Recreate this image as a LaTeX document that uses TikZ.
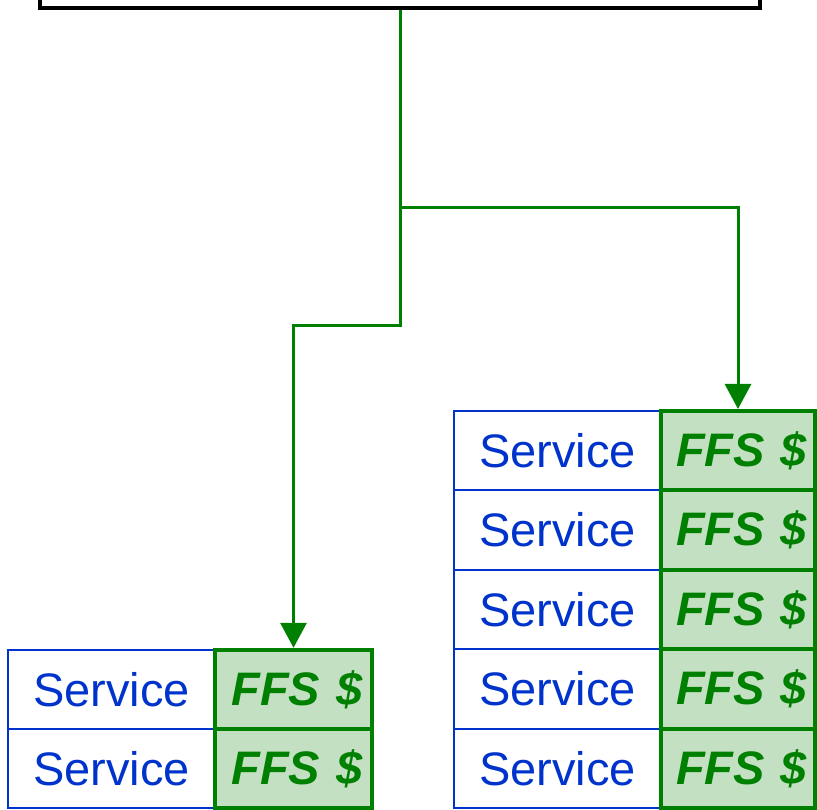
\documentclass[tikz,border=0pt]{standalone}
\usepackage{fontspec}
\setmainfont{Liberation Sans}
\usetikzlibrary{arrows.meta}
\definecolor{svcblue}{RGB}{0,51,204}
\definecolor{ffsgreen}{RGB}{0,128,0}
\definecolor{ffsfill}{RGB}{195,224,195}
\newcommand{\ffstext}{\hspace*{7pt}FFS\hspace{3pt} \$}
\tikzset{
  svc/.style={draw=svcblue, line width=2pt, fill=white, minimum width=207pt, minimum height=79.4pt, inner sep=0pt,
    text=svcblue, font=\fontsize{47}{47}\selectfont},
  ffs/.style={draw=ffsgreen, line width=4pt, fill=ffsfill, minimum width=154pt, minimum height=79.4pt, inner sep=0pt,
    text=ffsgreen, font=\fontsize{47}{47}\selectfont\bfseries\itshape},
  ffsl/.style={ffs, minimum width=157pt},
  conn/.style={draw=ffsgreen, line width=3pt, -{Triangle[length=25pt,width=26pt]}},
  topbox/.style={draw=black, line width=4pt, fill=white, minimum width=720pt, minimum height=60pt, inner sep=0pt}
}
\begin{document}
\begin{tikzpicture}[x=1pt,y=-1pt]
\useasboundingbox (0,0) rectangle (817,810);
\clip (0,0) rectangle (817,810);
\node[topbox] (top) at (400,-22) {};
% left group
\node[svc] (l1s) at (111.5,689.5) {Service};
\node[svc] (l2s) at (111.5,768.5) {Service};
\node[ffsl] (l1f) at (293.5,689.5) {\ffstext};
\node[ffsl] (l2f) at (293.5,768.5) {\ffstext};
% right group
\node[svc] (r1s) at (557.5,450.7) {Service};
\node[svc] (r2s) at (557.5,530.1) {Service};
\node[svc] (r3s) at (557.5,609.5) {Service};
\node[svc] (r4s) at (557.5,688.9) {Service};
\node[svc] (r5s) at (557.5,768.3) {Service};
\node[ffs] (r1f) at (738,450.7) {\ffstext};
\node[ffs] (r2f) at (738,530.1) {\ffstext};
\node[ffs] (r3f) at (738,609.5) {\ffstext};
\node[ffs] (r4f) at (738,688.9) {\ffstext};
\node[ffs] (r5f) at (738,768.3) {\ffstext};
% connectors
\coordinate (j1) at (400,208);
\coordinate (j2) at (400,326);
\draw[conn] (top.south) -- (j1) -| (r1f.north);
\draw[conn] (j1) -- (j2) -| (l1f.north);
\end{tikzpicture}
\end{document}
